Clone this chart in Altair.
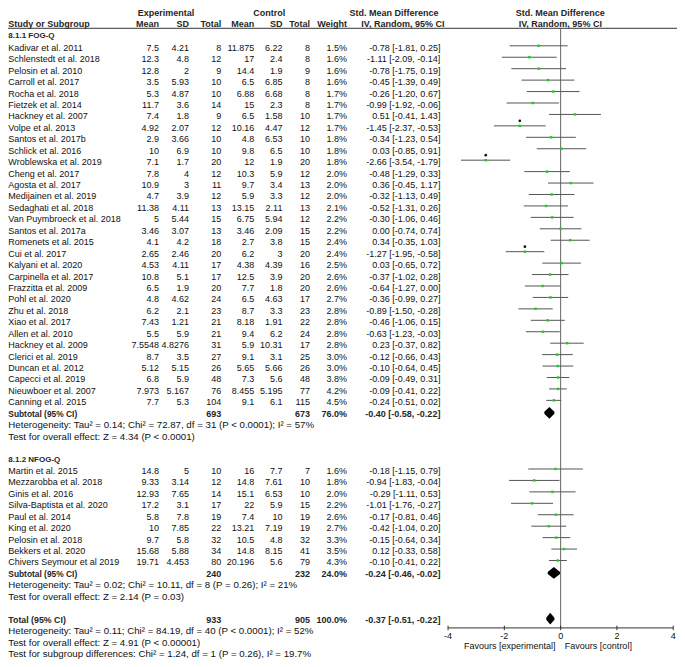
import altair as alt
import pandas as pd

FONT = "Liberation Sans"
FS = 9

# ------------------------------------------------------------------ data
g1_names = ["Kadivar et al. 2011", "Schlenstedt et al. 2018", "Pelosin et al. 2010", "Carroll et al. 2017",
            "Rocha et al. 2018", "Fietzek et al. 2014", "Hackney et al. 2007", "Volpe et al. 2013",
            "Santos et al. 2017b", "Schlick et al. 2016", "Wroblewska et al. 2019", "Cheng et al. 2017",
            "Agosta et al. 2017", "Medijainen et al. 2019", "Sedaghati et al. 2018", "Van Puymbroeck et al. 2018",
            "Santos et al. 2017a", "Romenets et al. 2015", "Cui et al. 2017", "Kalyani et al. 2020",
            "Carpinella et al. 2017", "Frazzitta et al. 2009", "Pohl et al. 2020", "Zhu et al. 2018",
            "Xiao et al. 2017", "Allen et al. 2010", "Hackney et al. 2009", "Clerici et al. 2019",
            "Duncan et al. 2012", "Capecci et al. 2019", "Nieuwboer et al. 2007", "Canning et al. 2015"]
g1_exp_mean = [7.5, 12.3, 12.8, 3.5, 5.3, 11.7, 7.4, 4.92, 2.9, 10, 7.1, 7.8, 10.9, 4.7, 11.38, 5, 3.46, 4.1,
               2.65, 4.53, 10.8, 6.5, 4.8, 6.2, 7.43, 5.5, 7.5548, 8.7, 5.12, 6.8, 7.973, 7.7]
g1_exp_sd = [4.21, 4.8, 2, 5.93, 4.87, 3.6, 1.8, 2.07, 3.66, 6.9, 1.7, 4, 3, 3.9, 4.11, 5.44, 3.07, 4.2,
             2.46, 4.11, 5.1, 1.9, 4.62, 2.1, 1.21, 5.9, 4.8276, 3.5, 5.15, 5.9, 5.167, 5.3]
g1_exp_n = [8, 12, 9, 10, 10, 14, 9, 12, 10, 10, 20, 12, 11, 12, 13, 15, 13, 18, 20, 17, 17, 20, 24, 23,
            21, 21, 31, 27, 26, 48, 76, 104]
g1_ctl_mean = [11.875, 17, 14.4, 6.5, 6.88, 15, 6.5, 10.16, 4.8, 9.8, 12, 10.3, 9.7, 5.9, 13.15, 6.75, 3.46,
               2.7, 6.2, 4.38, 12.5, 7.7, 6.5, 8.7, 8.18, 9.4, 5.9, 9.1, 5.65, 7.3, 8.455, 9.1]
g1_ctl_sd = [6.22, 2.4, 1.9, 6.85, 6.68, 2.3, 1.58, 4.47, 6.53, 6.5, 1.9, 5.9, 3.4, 3.3, 2.11, 5.94, 2.09,
             3.8, 3, 4.39, 3.9, 1.8, 4.63, 3.3, 1.91, 6.2, 10.31, 3.1, 5.66, 5.6, 5.195, 6.1]
g1_ctl_n = [8, 8, 9, 8, 8, 8, 10, 12, 10, 10, 20, 12, 13, 12, 13, 12, 15, 15, 20, 16, 20, 20, 17, 23,
            22, 24, 17, 25, 26, 48, 77, 115]
g1_weight = [1.5, 1.6, 1.6, 1.6, 1.7, 1.7, 1.7, 1.7, 1.8, 1.8, 1.8, 2.0, 2.0, 2.0, 2.1, 2.2, 2.2, 2.4, 2.4,
             2.5, 2.6, 2.6, 2.7, 2.8, 2.8, 2.8, 2.8, 3.0, 3.0, 3.8, 4.2, 4.5]
g1_est = [-0.78, -1.11, -0.78, -0.45, -0.26, -0.99, 0.51, -1.45, -0.34, 0.03, -2.66, -0.48, 0.36, -0.32,
          -0.52, -0.30, 0.00, 0.34, -1.27, 0.03, -0.37, -0.64, -0.36, -0.89, -0.46, -0.63, 0.23, -0.12,
          -0.10, -0.09, -0.09, -0.24]
g1_lo = [-1.81, -2.09, -1.75, -1.39, -1.20, -1.92, -0.41, -2.37, -1.23, -0.85, -3.54, -1.29, -0.45, -1.13,
         -1.31, -1.06, -0.74, -0.35, -1.95, -0.65, -1.02, -1.27, -0.99, -1.50, -1.06, -1.23, -0.37, -0.66,
         -0.64, -0.49, -0.41, -0.51]
g1_hi = [0.25, -0.14, 0.19, 0.49, 0.67, -0.06, 1.43, -0.53, 0.54, 0.91, -1.79, 0.33, 1.17, 0.49, 0.26,
         0.46, 0.74, 1.03, -0.58, 0.72, 0.28, 0.00, 0.27, -0.28, 0.15, -0.03, 0.82, 0.43, 0.45, 0.31,
         0.22, 0.02]

g2_names = ["Martin et al. 2015", "Mezzarobba et al. 2018", "Ginis et al. 2016", "Silva-Baptista et al. 2020",
            "Paul et al. 2014", "King et al. 2020", "Pelosin et al. 2018", "Bekkers et al. 2020",
            "Chivers Seymour et al 2019"]
g2_exp_mean = [14.8, 9.33, 12.93, 17.2, 5.8, 10, 9.7, 15.68, 19.71]
g2_exp_sd = [5, 3.14, 7.65, 3.1, 7.8, 7.85, 5.8, 5.88, 4.453]
g2_exp_n = [10, 12, 14, 17, 19, 22, 32, 34, 80]
g2_ctl_mean = [16, 14.8, 15.1, 22, 7.4, 13.21, 10.5, 14.8, 20.196]
g2_ctl_sd = [7.7, 7.61, 6.53, 5.9, 10, 7.19, 4.8, 8.15, 5.6]
g2_ctl_n = [7, 10, 10, 15, 19, 19, 32, 41, 79]
g2_weight = [1.6, 1.8, 2.0, 2.2, 2.6, 2.7, 3.3, 3.5, 4.3]
g2_est = [-0.18, -0.94, -0.29, -1.01, -0.17, -0.42, -0.15, 0.12, -0.10]
g2_lo = [-1.15, -1.83, -1.11, -1.76, -0.81, -1.04, -0.64, -0.33, -0.41]
g2_hi = [0.79, -0.04, 0.53, -0.27, 0.46, 0.20, 0.34, 0.58, 0.22]

sum_labels = ["Subtotal (95% CI)", "Subtotal (95% CI)", "Total (95% CI)"]
sum_exp_n = [693, 240, 933]
sum_ctl_n = [673, 232, 905]
sum_weight = [76.0, 24.0, 100.0]
sum_est = [-0.40, -0.24, -0.37]
sum_lo = [-0.58, -0.46, -0.51]
sum_hi = [-0.22, -0.02, -0.22]

group_labels = ["8.1.1 FOG-Q", "8.1.2 NFOG-Q"]
foot1 = ["Heterogeneity: Tau\u00b2 = 0.14; Chi\u00b2 = 72.87, df = 31 (P < 0.0001); I\u00b2 = 57%",
         "Test for overall effect: Z = 4.34 (P < 0.0001)"]
foot2 = ["Heterogeneity: Tau\u00b2 = 0.02; Chi\u00b2 = 10.11, df = 8 (P = 0.26); I\u00b2 = 21%",
         "Test for overall effect: Z = 2.14 (P = 0.03)"]
foot3 = ["Heterogeneity: Tau\u00b2 = 0.11; Chi\u00b2 = 84.19, df = 40 (P < 0.0001); I\u00b2 = 52%",
         "Test for overall effect: Z = 4.91 (P < 0.00001)",
         "Test for subgroup differences: Chi\u00b2 = 1.24, df = 1 (P = 0.26), I\u00b2 = 19.7%"]
marked = ["Volpe et al. 2013", "Wroblewska et al. 2019", "Cui et al. 2017"]

tick_values = [-4, -2, 0, 2, 4]
tick_labels = ["-4", "-2", "0", "2", "4"]
favours = ["Favours [experimental]", "Favours [control]"]

# ------------------------------------------------------------------ layout
W, H = 669, 651
KX = 668.5 / 673.0
KY = 641.0 / 658.5


def px(r):
    return max(0.0, (r - 7.0) * KX)


def py(r):
    return 5 + (r - 5) * KY


ROW0, STEP, NROW = 29.0, 11.75, 54
YS = alt.Scale(domain=[0, NROW], range=[py(ROW0), py(ROW0 + NROW * STEP)], nice=False, zero=False)
XS = alt.Scale(domain=[-4, 4], range=[px(450), px(676.7)], nice=False, zero=False)


def rowof(ref_y):
    return (ref_y - ROW0) / STEP


COL = dict(name=px(7.3), em=px(159), esd=px(189.3), en=px(221.7), cm=px(255), csd=px(283.3),
           cn=px(311), w=px(348.3), ci=px(442.3))


def fmt(v):
    return f"{v:g}"


def ci_text(e, lo, hi):
    return f"{e:.2f} [{lo:.2f}, {hi:.2f}]"


texts = []   # row, column x, text, align, bold, font size


def add(row, x, t, align, bold, fs=FS):
    texts.append(dict(row=row, cx=round(x, 2), text=t, align=align, bold=bold, fs=fs))


forest = []
g1_rows = list(range(1, 33))
g2_rows = list(range(38, 47))
groups = [
    (g1_names, g1_exp_mean, g1_exp_sd, g1_exp_n, g1_ctl_mean, g1_ctl_sd, g1_ctl_n, g1_weight, g1_est, g1_lo,
     g1_hi, g1_rows),
    (g2_names, g2_exp_mean, g2_exp_sd, g2_exp_n, g2_ctl_mean, g2_ctl_sd, g2_ctl_n, g2_weight, g2_est, g2_lo,
     g2_hi, g2_rows),
]
for (nm, em, esd, en, cm, csd, cn, w, est, lo, hi, rows) in groups:
    for i in range(len(nm)):
        r = rows[i]
        add(r, COL["name"], nm[i], "left", False)
        add(r, COL["em"], fmt(em[i]), "right", False)
        add(r, COL["esd"], fmt(esd[i]), "right", False)
        add(r, COL["en"], fmt(en[i]), "right", False)
        add(r, COL["cm"], fmt(cm[i]), "right", False)
        add(r, COL["csd"], fmt(csd[i]), "right", False)
        add(r, COL["cn"], fmt(cn[i]), "right", False)
        add(r, COL["w"], f"{w[i]:.1f}%", "right", False)
        add(r, COL["ci"], ci_text(est[i], lo[i], hi[i]), "right", False)
        forest.append(dict(name=nm[i], row=r, est=est[i], lo=lo[i], hi=hi[i], mark=nm[i] in marked))

add(0, COL["name"], group_labels[0], "left", True, 8.0)
add(37, COL["name"], group_labels[1], "left", True, 8.0)

sum_rows = [33, 47, 51]
label_fs = [8.4, 8.4, 8.8]
diamonds = []
for k in range(3):
    r = sum_rows[k]
    add(r, COL["name"], sum_labels[k], "left", True, label_fs[k])
    add(r, COL["en"], str(sum_exp_n[k]), "right", True)
    add(r, COL["cn"], str(sum_ctl_n[k]), "right", True)
    add(r, COL["w"], f"{sum_weight[k]:.1f}%", "right", True)
    add(r, COL["ci"], ci_text(sum_est[k], sum_lo[k], sum_hi[k]), "right", True)
    h = 0.43
    diamonds.append(pd.DataFrame({
        "dx": [sum_lo[k], sum_est[k], sum_hi[k]],
        "dy": [r, r - h, r],
        "dy2": [r, r + h, r],
    }))

FOOT_FS = 9.7
for t, r in zip(foot1, [34, 35]):
    add(r, COL["name"], t, "left", False, FOOT_FS)
for t, r in zip(foot2, [48, 49]):
    add(r, COL["name"], t, "left", False, FOOT_FS)
for t, r in zip(foot3, [52, 53, 54]):
    add(r, COL["name"], t, "left", False, FOOT_FS)

# headers
h1 = rowof(5.0)
h2 = rowof(16.5)
add(h1, px(166), "Experimental", "center", True)
add(h1, px(270), "Control", "center", True)
add(h1, px(395.5), "Std. Mean Difference", "center", True)
add(h1, px(563), "Std. Mean Difference", "center", True)
add(h2, COL["name"], "Study or Subgroup", "left", True)
for key, lab in [("em", "Mean"), ("esd", "SD"), ("en", "Total"), ("cm", "Mean"), ("csd", "SD"),
                 ("cn", "Total"), ("w", "Weight")]:
    add(h2, COL[key], lab, "right", True)
add(h2, px(404.5), "IV, Random, 95% CI", "center", True)
add(h2, px(563), "IV, Random, 95% CI", "center", True)

tdf = pd.DataFrame(texts)
fdf = pd.DataFrame(forest)

layers = []
for (cx, align, bold, fs), sub in tdf.groupby(["cx", "align", "bold", "fs"]):
    layers.append(
        alt.Chart(sub[["row", "text"]]).mark_text(
            align=align, baseline="middle", font=FONT, fontSize=float(fs),
            fontWeight="bold" if bold else "normal",
            color="#262626" if bold else "#111111")
        .encode(x=alt.value(float(cx)),
                y=alt.Y("row:Q", scale=YS, axis=None),
                text="text:N"))

# header rule
line_row = rowof(20.7)
axis_row = rowof(636.7)
layers.append(
    alt.Chart(pd.DataFrame({"row": [line_row]})).mark_rule(color="#333333", strokeWidth=1)
    .encode(x=alt.value(0), x2=alt.value(W), y=alt.Y("row:Q", scale=YS, axis=None)))

# zero line
layers.append(
    alt.Chart(pd.DataFrame({"v": [0], "r1": [line_row], "r2": [axis_row]}))
    .mark_rule(color="#666666", strokeWidth=1)
    .encode(x=alt.X("v:Q", scale=XS, axis=None), y=alt.Y("r1:Q", scale=YS, axis=None), y2="r2:Q"))

OFF = -2
# CI lines
layers.append(
    alt.Chart(fdf).mark_rule(color="#555555", strokeWidth=1, yOffset=OFF)
    .encode(x=alt.X("lo:Q", scale=XS, axis=None), x2="hi:Q", y=alt.Y("row:Q", scale=YS, axis=None)))
# point estimates
layers.append(
    alt.Chart(fdf).mark_square(color="#22cc22", size=6, opacity=1, yOffset=OFF)
    .encode(x=alt.X("est:Q", scale=XS, axis=None), y=alt.Y("row:Q", scale=YS, axis=None)))
# marks above some studies
layers.append(
    alt.Chart(fdf[fdf["mark"]]).mark_circle(color="#111111", size=7, opacity=1, yOffset=OFF - 5)
    .encode(x=alt.X("est:Q", scale=XS, axis=None), y=alt.Y("row:Q", scale=YS, axis=None)))
# diamonds (one layer each)
for ddf in diamonds:
    layers.append(
        alt.Chart(ddf).mark_area(color="#000000", opacity=1, yOffset=OFF)
        .encode(x=alt.X("dx:Q", scale=XS, axis=None), y=alt.Y("dy:Q", scale=YS, axis=None), y2="dy2:Q"))

# bottom axis
layers.append(
    alt.Chart(pd.DataFrame({"a": [tick_values[0]], "b": [tick_values[-1]], "row": [axis_row]}))
    .mark_rule(color="#333333", strokeWidth=1)
    .encode(x=alt.X("a:Q", scale=XS, axis=None), x2="b:Q", y=alt.Y("row:Q", scale=YS, axis=None)))
tdf_ticks = pd.DataFrame({"v": tick_values, "lab": tick_labels,
                          "r1": [axis_row - 0.2] * 5, "r2": [axis_row + 0.2] * 5,
                          "rl": [rowof(645.0)] * 5})
layers.append(
    alt.Chart(tdf_ticks).mark_rule(color="#333333", strokeWidth=1)
    .encode(x=alt.X("v:Q", scale=XS, axis=None), y=alt.Y("r1:Q", scale=YS, axis=None), y2="r2:Q"))
layers.append(
    alt.Chart(tdf_ticks).mark_text(align="center", baseline="middle", font=FONT, fontSize=FS, color="#111111")
    .encode(x=alt.X("v:Q", scale=XS, axis=None), y=alt.Y("rl:Q", scale=YS, axis=None), text="lab:N"))
fav = pd.DataFrame({"v": [-0.18, 0.15], "t": favours, "row": [rowof(655.7)] * 2})
layers.append(
    alt.Chart(fav[fav.v < 0]).mark_text(align="right", baseline="middle", font=FONT, fontSize=FS,
                                         color="#111111")
    .encode(x=alt.X("v:Q", scale=XS, axis=None), y=alt.Y("row:Q", scale=YS, axis=None), text="t:N"))
layers.append(
    alt.Chart(fav[fav.v > 0]).mark_text(align="left", baseline="middle", font=FONT, fontSize=FS,
                                         color="#111111")
    .encode(x=alt.X("v:Q", scale=XS, axis=None), y=alt.Y("row:Q", scale=YS, axis=None), text="t:N"))

chart = (alt.layer(*layers)
         .properties(width=W, height=H, padding=0, autosize="none", background="white")
         .configure_view(stroke=None))

chart.save("out.html", embed_options={"renderer": "svg", "actions": False})
